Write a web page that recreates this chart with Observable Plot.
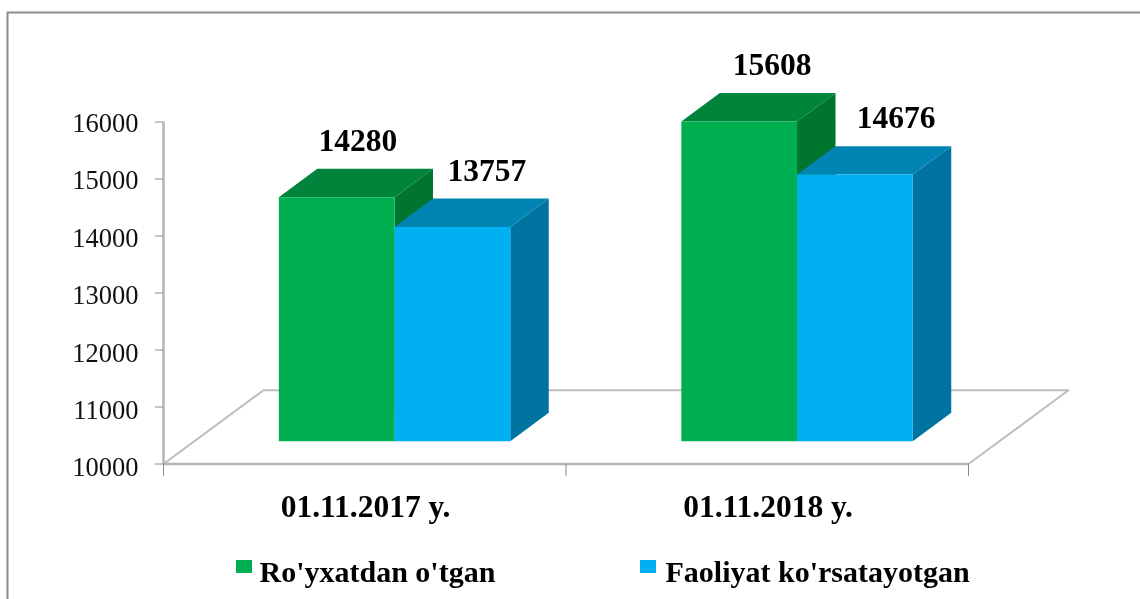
<!DOCTYPE html>
<html>
<head>
<meta charset="utf-8">
<script src="https://cdn.jsdelivr.net/npm/d3@7"></script>
<script src="https://cdn.jsdelivr.net/npm/@observablehq/plot@0.6"></script>
<style>
html,body{margin:0;padding:0;background:#fff;overflow:hidden}
svg{display:block;background:#fff;filter:blur(0.35px)}
[aria-label="legend-text"] text{letter-spacing:1.2px}
</style>
</head>
<body>
<div id="chart"></div>
<script>
const categories = ["01.11.2017 y.", "01.11.2018 y."];
const seriesNames = ["Ro'yxatdan o'tgan", "Faoliyat ko'rsatayotgan"];
const registered = [14280, 15608];
const active = [13757, 14676];
const yTicks = [10000, 11000, 12000, 13000, 14000, 15000, 16000];
const xTicks = [0, 1, 2];

const faceColors = [
  {front: "#00B050", top: "#00843C", side: "#007530"},
  {front: "#00B0F0", top: "#0084B4", side: "#0074A0"}
];

// Pseudo-3D projection, in scale units: depth d runs 0 (front) to 1 (back of floor).
const DEPTH_X = 0.2484, DEPTH_Y = 1294;
const px = (u, d) => u + d * DEPTH_X;
const py = (v, d) => v + d * DEPTH_Y;
const BAR_W = 0.2875, D0 = 0.31, D1 = 0.695, SHIFT = -0.003;

const series = [registered, active];
const polys = [];
const add = (id, fill, pts) => pts.forEach(([x, y]) => polys.push({id, fill, x, y}));
categories.forEach((_, c) => {
  series.forEach((vals, s) => {
    const v = vals[c], col = faceColors[s];
    const l = c + 0.5 + SHIFT - BAR_W + s * BAR_W, r = l + BAR_W;
    add(`side${c}${s}`, col.side, [[px(r, D0), py(10000, D0)], [px(r, D1), py(10000, D1)], [px(r, D1), py(v, D1)], [px(r, D0), py(v, D0)]]);
    add(`top${c}${s}`, col.top, [[px(l, D0), py(v, D0)], [px(r, D0), py(v, D0)], [px(r, D1), py(v, D1)], [px(l, D1), py(v, D1)]]);
    add(`front${c}${s}`, col.front, [[px(l, D0), py(10000, D0)], [px(r, D0), py(10000, D0)], [px(r, D0), py(v, D0)], [px(l, D0), py(v, D0)]]);
  });
});

const floor = [[0, 10000], [px(0, 1), py(10000, 1)], [px(2, 1), py(10000, 1)], [2, 10000]].map(([x, y]) => ({x, y}));

// Value labels: sit above the back edge of each bar's top, hand-nudged as in the source.
const labelNudgeX = [[-0.043, -0.010], [-0.014, 0.007]];
const LABEL_UP = 490;
const valueLabels = [];
categories.forEach((_, c) => series.forEach((vals, s) => {
  const l = c + 0.5 + SHIFT - BAR_W + s * BAR_W;
  valueLabels.push({x: px(l + BAR_W / 2, D1) + labelNudgeX[c][s], y: py(vals[c], D1) + LABEL_UP, text: String(vals[c])});
}));

// Helpers converting a layout position to scale units, for the legend and category row.
const PX_PER_X = 402.5, PX_PER_Y = 0.057;
const ux = p => (p - 163) / PX_PER_X;
const vy = p => 10000 - (p - 463.5) / PX_PER_Y;

const swatches = [
  {x1: ux(236), x2: ux(252), y1: vy(573), y2: vy(560), fill: faceColors[0].front},
  {x1: ux(640), x2: ux(656), y1: vy(573), y2: vy(560), fill: faceColors[1].front}
];
const legendText = [
  {x: ux(259), y: vy(572), text: seriesNames[0]},
  {x: ux(665), y: vy(572), text: seriesNames[1]}
];
const catLabels = categories.map((t, i) => ({x: i + 0.5 + 0.002, y: vy(506), text: t}));
// Tick labels drift slightly below their ticks towards the bottom of the axis, as in the source.
const tickLabelY = d => d - (1.5 + (16000 - d) / 6000 * 2.5) / PX_PER_Y;

const chart = Plot.plot({
  width: 1140, height: 599,
  marginLeft: 163, marginRight: 172, marginTop: 121.5, marginBottom: 135.5,
  style: {fontFamily: "'Liberation Serif', serif", background: "#fff", color: "#111"},
  x: {domain: [0, 2], axis: null},
  y: {domain: [10000, 16000], axis: null},
  marks: [
    // outer frame
    Plot.ruleX([ux(7)], {y1: vy(12), y2: vy(599), stroke: "#8c8c8c", strokeWidth: 2}),
    Plot.ruleY([vy(12)], {x1: ux(7), x2: ux(1140), stroke: "#8c8c8c", strokeWidth: 2}),
    // floor
    Plot.line(floor, {x: "x", y: "y", stroke: "#bdbdbd", strokeWidth: 2}),
    Plot.ruleY([10000], {x1: 0, x2: 2, stroke: "#b5b5b5", strokeWidth: 2.5}),
    // axes
    Plot.ruleX([0], {y1: 10000, y2: 16000, stroke: "#b5b5b5", strokeWidth: 2.5}),
    Plot.ruleY(yTicks, {x1: ux(155), x2: 0, stroke: "#8c8c8c"}),
    Plot.ruleX(xTicks, {y1: 10000, y2: vy(476), stroke: "#8c8c8c"}),
    Plot.text(yTicks, {x: 0, y: tickLabelY, text: d => String(d), dx: -25, textAnchor: "end", fontSize: 26.5, fill: "#111"}),
    // bars
    Plot.line(polys, {x: "x", y: "y", z: "id", fill: d => d.fill, stroke: "none"}),
    // texts
    Plot.text(valueLabels, {x: "x", y: "y", text: "text", fontSize: 31.5, fontWeight: "bold", fill: "#000"}),
    Plot.text(catLabels, {x: "x", y: "y", text: "text", fontSize: 31.5, fontWeight: "bold", fill: "#000"}),
    Plot.rect(swatches, {x1: "x1", x2: "x2", y1: "y1", y2: "y2", fill: d => d.fill}),
    Plot.text(legendText, {x: "x", y: "y", text: "text", fontSize: 30, fontWeight: "bold", fill: "#000", textAnchor: "start", ariaLabel: "legend-text"})
  ]
});
document.getElementById("chart").appendChild(chart);
</script>
</body>
</html>
